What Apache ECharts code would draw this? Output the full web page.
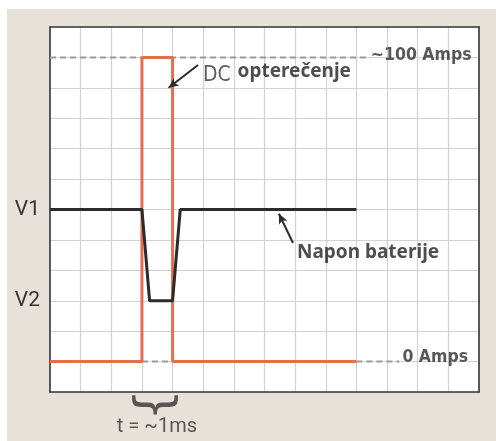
<!DOCTYPE html>
<html>
<head>
<meta charset="utf-8">
<script src="https://cdn.jsdelivr.net/npm/echarts@6/dist/echarts.min.js"></script>
<style>
  html, body { margin: 0; padding: 0; background: #fff; }
  #wrap { position: absolute; left: 7px; top: 9px; width: 489px; height: 432px; background: #e7e1d9; }
  #chart { position: absolute; left: 0; top: 0; width: 496px; height: 441px; }
</style>
</head>
<body>
<div id="wrap"></div>
<div id="chart"></div>
<script>
// ── Data (grid units: 14 columns x 12 rows) ─────────────────────────────
const currentTrace = [[0, 1], [3, 1], [3, 11], [4, 11], [4, 1], [10, 1]];
const voltageTrace = [[0, 6], [3, 6], [3.25, 3], [4, 3], [4.25, 6], [10, 6]];
const peakRef = [[0, 11], [10.45, 11]];
const zeroRefGap = [[3, 1], [4, 1]];
const zeroRefTail = [[10, 1], [11.4, 1]];
const yTickLabels = { 6: 'V1', 3: 'V2' };

const ampLabels = [
  { value: [10.47, 11.07], text: '~100 Amps' },
  { value: [11.5, 1.12], text: '0 Amps' }
];
const dcArrow = [[4.83, 10.75], [3.87, 10.0]];
const battArrow = [[7.93, 4.9], [7.47, 5.86]];
const dcLabel = { value: [4.99, 10.42], text: 'DC' };
const loadLabel = { value: [6.12, 10.55], text: 'opterečenje' };
const battLabel = { value: [8.06, 4.57], text: 'Napon baterije' };
const braceMark = { value: [3.5, -0.42], text: '{' };
const timeLabel = { value: [3.49, -1.15], text: 't = ~1ms' };

const RED = '#e2704f';
const INK = '#2b2b2b';
const FRAME = { show: true, onZero: false, lineStyle: { color: '#333', width: 1.6 } };
const GRIDLINE = { show: true, showMinLine: false, showMaxLine: false, lineStyle: { color: '#d2d2d2', width: 1.2 } };
const SANS = 'Roboto, "Liberation Sans", Arial, sans-serif';
const CONDENSED = '"DejaVu Sans Condensed", "DejaVu Sans", sans-serif';

const chart = echarts.init(document.getElementById('chart'));

function textSeries(item, style) {
  return {
    type: 'scatter',
    silent: true,
    clip: false,
    symbolSize: 0,
    z: 10,
    data: [{ value: item.value, label: Object.assign({ show: true, formatter: item.text }, style) }]
  };
}

// frame-only axes on the top and right edges
const edgeAxis = { type: 'value', min: 0, axisLine: FRAME, axisTick: { show: false },
  axisLabel: { show: false }, splitLine: { show: false } };

chart.setOption({
  animation: false,
  grid: {
    left: 50, top: 27, right: 17, bottom: 49,
    show: true, backgroundColor: '#fff', borderWidth: 0
  },
  xAxis: [
    { type: 'value', min: 0, max: 14, interval: 1, position: 'bottom',
      axisLine: FRAME, axisTick: { show: false }, axisLabel: { show: false },
      splitLine: GRIDLINE },
    Object.assign({ position: 'top', max: 14 }, edgeAxis)
  ],
  yAxis: [
    { type: 'value', min: 0, max: 12, interval: 1, position: 'left',
      axisLine: FRAME, axisTick: { show: false },
      splitLine: GRIDLINE,
      axisLabel: {
        margin: 10, fontSize: 21, color: '#333', fontFamily: SANS,
        formatter: (v) => yTickLabels[v] || ''
      } },
    Object.assign({ position: 'right', max: 12 }, edgeAxis)
  ],
  series: [
    { type: 'line', data: peakRef, symbol: 'none', silent: true,
      lineStyle: { color: '#9a9a9a', width: 2, type: [6, 4] } },
    { type: 'line', data: zeroRefGap, symbol: 'none', silent: true,
      lineStyle: { color: '#9a9a9a', width: 2, type: [6, 4] } },
    { type: 'line', data: zeroRefTail, symbol: 'none', silent: true,
      lineStyle: { color: '#9a9a9a', width: 2, type: [6, 4] } },
    { type: 'line', data: currentTrace, symbol: 'none', silent: true, z: 3,
      lineStyle: { color: RED, width: 3 } },
    { type: 'line', data: voltageTrace, symbol: 'none', silent: true, z: 4,
      lineStyle: { color: INK, width: 3 } },
    { type: 'line', data: [], silent: true,
      markLine: {
        silent: true, symbol: ['none', 'arrow'], symbolSize: [7, 10],
        label: { show: false },
        lineStyle: { color: INK, width: 2, type: 'solid' },
        data: [
          [{ coord: dcArrow[0] }, { coord: dcArrow[1] }],
          [{ coord: battArrow[0] }, { coord: battArrow[1] }]
        ]
      } },
    ...ampLabels.map(a => textSeries(a, {
      position: 'right', distance: 0, fontSize: 17.5, fontWeight: 'bold', color: '#2e2e2e',
      fontFamily: CONDENSED
    })),
    textSeries(dcLabel, {
      position: 'right', distance: 0, fontSize: 21, color: '#333', fontFamily: CONDENSED
    }),
    textSeries(loadLabel, {
      position: 'right', distance: 0, fontSize: 19, fontWeight: 'bold', color: '#222',
      fontFamily: '"Noto Sans", "Open Sans", sans-serif'
    }),
    textSeries(battLabel, {
      position: 'right', distance: 0, fontSize: 19, fontWeight: 'bold', color: '#222',
      fontFamily: '"Noto Sans", "Open Sans", sans-serif'
    }),
    textSeries(braceMark, {
      position: 'inside', rotate: 90, fontSize: 50, color: '#333',
      fontFamily: '"DejaVu Sans", sans-serif'
    }),
    textSeries(timeLabel, {
      position: 'inside', fontSize: 20, color: '#333', fontFamily: SANS
    })
  ]
});
</script>
</body>
</html>
